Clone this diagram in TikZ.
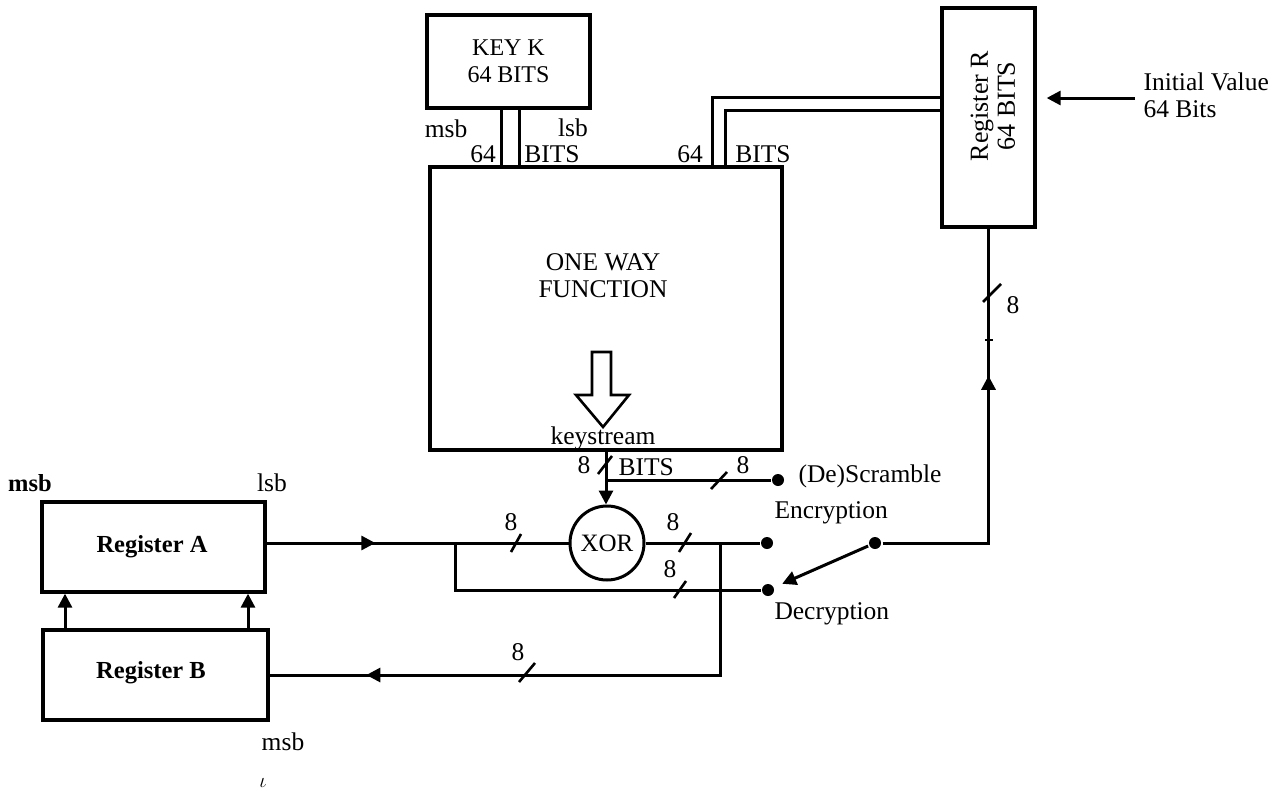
\documentclass[tikz,border=0pt]{standalone}
\usepackage{fontspec}
\setmainfont{Liberation Serif}
\usetikzlibrary{arrows.meta,decorations.markings}
\begin{document}
\begin{tikzpicture}[x=1pt,y=-1pt,
 line width=3pt,
 box/.style={draw, line width=3.3pt, inner sep=0pt},
 txt/.style={font=\fontsize{25.5}{27}\selectfont, inner sep=0pt},
 btxt/.style={font=\fontsize{24.5}{26}\selectfont\bfseries, inner sep=0pt},
 dot/.style={circle, fill, inner sep=0pt, minimum size=12pt},
 tip/.style={-{Triangle[length=14pt,width=14pt]}},
 midarr/.style={postaction={decorate},decoration={markings,mark=at position #1 with {\arrow{Triangle[length=14pt,width=14pt]}}}},
 slash/.style={line width=2.6pt}
]
\useasboundingbox (0,0) rectangle (1284,790);

% boxes
\node[box, minimum width=163pt, minimum height=93pt, align=center, inner sep=0pt, font=\fontsize{24}{27}\selectfont] (key) at (508.5,61.5) {KEY K\\64 BITS};
\node[box, minimum width=352pt, minimum height=283pt] (owf) at (606,308.5) {};
\node[txt, align=center] (owft) at (603,276) {ONE WAY\\FUNCTION};
\node[box, minimum width=93pt, minimum height=219pt] (regR) at (988.5,117.5) {};
\node[align=center, inner sep=0pt, rotate=90, font=\fontsize{26}{27}\selectfont] (regRt) at (993,106) {Register R\\64 BITS};
\node[box, minimum width=223pt, minimum height=90pt] (regA) at (153.5,547) {};
\node[btxt] (regAt) at (152,547) {Register A};
\node[box, minimum width=225pt, minimum height=90pt] (regB) at (155.5,675) {};
\node[btxt] (regBt) at (151,673) {Register B};
\node[circle, draw, line width=3pt, minimum size=74pt, inner sep=0pt, font=\fontsize{25}{26}\selectfont] (xor) at (607,543) {XOR};

% hollow keystream arrow
\draw[line width=2.6pt, line join=miter] (592,352) -- (611,352) -- (611,395) -- (629,395) -- (603,427) -- (576,395) -- (592,395) -- cycle;
\node[txt] (kst) at (603,438) {keystream};

% dots
\node[dot] (desc) at (778,480) {};
\node[dot] (enc) at (767,543) {};
\node[dot] (dec) at (768,590) {};
\node[dot] (piv) at (875,543) {};

% key to OWF
\draw ([xshift=-7.5pt]key.south) -- ([xshift=-7.5pt]key.south |- owf.north);
\draw ([xshift=10.5pt]key.south) -- ([xshift=10.5pt]key.south |- owf.north);
% register R to OWF
\draw ([yshift=20.5pt]regR.west) -| ([xshift=106pt]owf.north);
\draw ([yshift=7.5pt]regR.west) -| ([xshift=119pt]owf.north);

% initial value
\coordinate (iv) at (1135,98);
\draw[tip, shorten >=10pt] (iv) -- (iv -| regR.east);
\node[txt, anchor=west, align=left] (ivt) at (1142,95) {Initial Value\\64 Bits};

% keystream to XOR
\draw[tip] (owf.south) -- (owf.south |- xor.north);
\draw (owf.south |- desc) -- (desc);

% register A to XOR, and decryption loop
\coordinate (j1) at (455,543);
\draw[midarr=0.36] (regA.east |- j1) -- (j1) -- (xor.west);
\draw (j1) -- (j1 |- dec) -- (dec);
\draw (xor.east) -- (enc);

% feedback to register B
\coordinate (j2) at (720,543);
\draw[midarr=0.834] (j2) -- (j2 |- regB.east) -- (regB.east);

% switch and register R line
\draw[midarr=0.65] (piv) -- (regR.south |- piv) -- (regR.south);
\draw[tip, shorten >=8pt] (piv) -- (dec);

% register B to register A
\draw[tip] ([xshift=-90.5pt]regB.north) -- ([xshift=-90.5pt]regB.north |- regA.south);
\draw[tip] ([xshift=92.5pt]regB.north) -- ([xshift=92.5pt]regB.north |- regA.south);

% bus width slashes
\draw[slash] (511,552) -- (521,534);
\draw[slash] (679,552) -- (691,533);
\draw[slash] (674,598) -- (686,581);
\draw[slash] (711,489) -- (727,472);
\draw[slash] (598,474) -- (612,456);
\draw[slash] (519,682) -- (535,663);
\draw[slash] (983,302) -- (1001,284);
\draw[line width=1.4pt] (985,340) -- (993,340);

% labels
\node[txt] (l1) at (511,522) {8};
\node[txt] (l2) at (673,522) {8};
\node[txt] (l3) at (670,569) {8};
\node[txt] (l4) at (743,465) {8};
\node[txt] (l5) at (584,465) {8};
\node[txt] (l6) at (518,652) {8};
\node[txt] (l7) at (1013,305) {8};
\node[txt, anchor=west] (l8) at (617,467) {BITS};
\node[txt, anchor=west] (l9) at (797,476) {(De)Scramble};
\node[txt, anchor=west] (l10) at (773,513) {Encryption};
\node[txt, anchor=west] (l11) at (773,614) {Decryption};
\node[txt] (l12) at (446,129) {msb};
\node[txt] (l13) at (483,154) {64};
\node[txt] (l14) at (573,128) {lsb};
\node[txt] (l15) at (552,154) {BITS};
\node[txt] (l16) at (690,154) {64};
\node[txt] (l17) at (763,154) {BITS};
\node[btxt] (l18) at (30,483) {msb};
\node[txt] (l19) at (272,483) {lsb};
\node[txt] (l20) at (283,742) {msb};
\node[inner sep=0pt, font=\fontsize{20}{20}\selectfont] (l21) at (263,783) {$\iota$};
\end{tikzpicture}
\end{document}
